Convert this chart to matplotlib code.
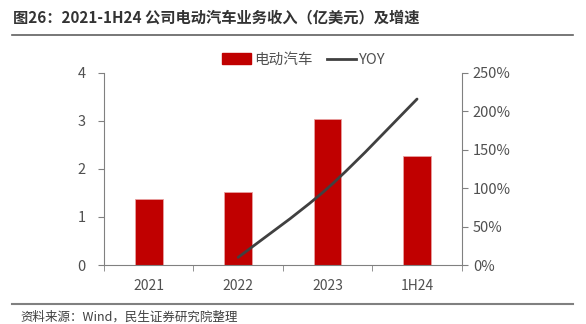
import numpy as np
import matplotlib.pyplot as plt
from matplotlib.path import Path
from matplotlib.patches import PathPatch
from matplotlib.lines import Line2D
from matplotlib.patches import Patch

plt.rcParams['font.family'] = ['Noto Sans CJK SC', 'DejaVu Sans']

categories = ['2021', '2022', '2023', '1H24']
revenue = [1.38, 1.52, 3.04, 2.26]
yoy_idx = [1, 2, 3]
yoy = [10, 100, 216]

title = '图26：2021-1H24 公司电动汽车业务收入（亿美元）及增速'
source = '资料来源：Wind，民生证券研究院整理'

txt = '#505050'
spine = '#808080'

fig = plt.figure(figsize=(5.86, 3.24), dpi=100)
ax = fig.add_axes([0.1775, 0.182, 0.6105, 0.593])
x = np.arange(len(categories))
ax.bar(x, revenue, width=0.31, color='#C00000', edgecolor='#E8A0A0', linewidth=0.6, zorder=2)
ax.set_xlim(-0.5, 3.5)
ax.set_ylim(0, 4)
ax.set_yticks([0, 1, 2, 3, 4])
ax.set_xticks(x)
ax.set_xticklabels(categories)
ax.set_xticks(np.arange(-0.5, 4, 1), minor=True)
ax.tick_params(axis='x', which='major', length=0, labelsize=10, colors=txt, pad=10)
ax.tick_params(axis='x', which='minor', length=4, color=spine, direction='out')
ax.tick_params(axis='y', length=4, color=spine, labelsize=10.5, labelcolor=txt, pad=9)
for s in ['top', 'right']:
    ax.spines[s].set_visible(False)
for s in ['left', 'bottom']:
    ax.spines[s].set_color(spine)

ax2 = ax.twinx()
ax2.set_ylim(0, 250)
ax2.set_yticks(range(0, 251, 50))
ax2.set_yticklabels([f'{v}%' for v in range(0, 251, 50)])
ax2.tick_params(axis='y', length=4, color=spine, labelsize=10.5, labelcolor=txt, pad=4)
for s in ['top', 'left', 'bottom']:
    ax2.spines[s].set_visible(False)
ax2.spines['right'].set_color(spine)

# smooth curve through yoy points (catmull-rom -> bezier)
pts = list(zip(yoy_idx, yoy))
ext = [pts[0]] + pts + [pts[-1]]
verts = [pts[0]]
codes = [Path.MOVETO]
for i in range(1, len(ext) - 2):
    p0, p1, p2, p3 = [np.array(p, float) for p in ext[i - 1:i + 3]]
    c1 = p1 + (p2 - p0) / 6
    c2 = p2 - (p3 - p1) / 6
    verts += [tuple(c1), tuple(c2), tuple(p2)]
    codes += [Path.CURVE4] * 3
ax2.add_patch(PathPatch(Path(verts, codes), facecolor='none', edgecolor='#404040',
                        linewidth=2, capstyle='round', zorder=3))

handles = [Patch(facecolor='#C00000', edgecolor='#C00000'),
           Line2D([0], [0], color='#404040', linewidth=2)]
fig.legend(handles, ['电动汽车', 'YOY'], loc='center', bbox_to_anchor=(0.518, 0.815),
           ncol=2, frameon=False, fontsize=10.5, labelcolor=txt, handlelength=2.0,
           handleheight=0.8, columnspacing=1.0, handletextpad=0.2)

fig.text(0.022, 0.945, title, fontsize=11, fontweight='bold', color='#333333', va='center')
fig.add_artist(Line2D([0.02, 0.978], [0.893, 0.893], color='#606060', linewidth=1.2))
fig.add_artist(Line2D([0.02, 0.978], [0.062, 0.062], color='#808080', linewidth=1.5))
fig.text(0.035, 0.022, source, fontsize=9, color='#404040', va='center')

fig.savefig('out.png', dpi=100)
